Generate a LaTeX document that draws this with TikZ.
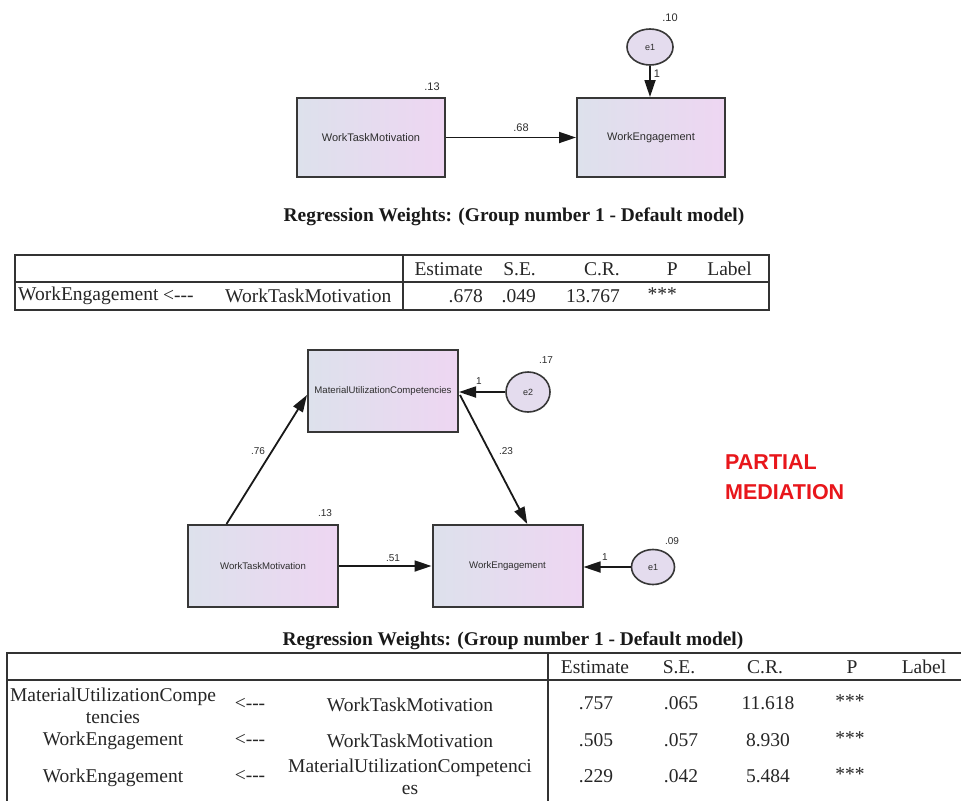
\documentclass[tikz,border=0pt]{standalone}
\usepackage{fontspec}
\setmainfont{Liberation Serif}
\newfontfamily\arialfont{Liberation Sans}
\usetikzlibrary{arrows.meta,shapes.geometric,calc}
\definecolor{boxL}{RGB}{221,225,236}
\definecolor{boxR}{RGB}{238,214,242}
\definecolor{ellfill}{RGB}{228,220,238}
\definecolor{edgec}{RGB}{55,55,55}
\definecolor{redtxt}{RGB}{232,22,27}
\definecolor{txtc}{RGB}{45,45,45}
\newcommand{\larr}{<{-}{-}{-}}
\begin{document}
\begin{tikzpicture}[x=1pt,y=-1pt,
  varbox/.style={rectangle,draw=edgec,line width=2pt,left color=boxL,right color=boxR,inner sep=0pt,text=txtc},
  bigbox/.style={varbox,minimum width=148pt,minimum height=79pt,font=\arialfont\fontsize{11}{12}\selectfont},
  midbox/.style={varbox,minimum width=150pt,minimum height=82pt,font=\arialfont\fontsize{9.6}{11}\selectfont},
  errvar/.style={ellipse,draw=edgec,line width=1.6pt,fill=ellfill,inner sep=0pt,text=txtc,font=\arialfont\fontsize{9}{10}\selectfont},
  regpath/.style={line width=1.8pt,draw=black!90,-{Triangle[length=17pt,width=11pt]}},
  num/.style={font=\arialfont\fontsize{11}{12}\selectfont,text=txtc,inner sep=0pt},
  numsm/.style={font=\arialfont\fontsize{10}{11}\selectfont,text=txtc,inner sep=0pt},
  cell/.style={font=\fontsize{19.5}{22}\selectfont,inner sep=0pt,text=black!85,align=center},
  ttl/.style={font=\bfseries\fontsize{19.4}{22}\selectfont,inner sep=0pt,text=black!90},
  rulel/.style={line width=1.6pt,draw=black!80},
  redlbl/.style={font=\arialfont\bfseries\fontsize{21.5}{30}\selectfont,text=redtxt,inner sep=0pt,align=left}
]
\path[use as bounding box,fill=white] (0,0) rectangle (961,801);

% ---------------- top diagram ----------------
\node[bigbox] (wtm1) at (371,137.5) {WorkTaskMotivation};
\node[bigbox] (we1) at (651,137.5) {WorkEngagement};
\node[errvar,minimum width=46pt,minimum height=36pt] (e1a) at (650,47) {e1};
\draw[regpath] (wtm1.east) -- (we1.west);
\draw[regpath] (e1a.south) -- (e1a.south |- we1.north);
\node[num] (v13a) at (432,87) {.13};
\node[num] (v10) at (670,18) {.10};
\node[num] (v68) at (521,128) {.68};
\node[num] (one1) at (657,74) {1};

% ---------------- top table ----------------
\node[ttl] (title1) at (514,217) {Regression Weights: (Group number 1 - Default model)};
\draw[rulel] (15,255) rectangle (769,310);
\draw[rulel] (15,282) -- (769,282);
\draw[rulel] (403,255) -- (403,310);
\node[cell,anchor=east] (h1est) at (483,269) {Estimate};
\node[cell,anchor=east] (h1se) at (536,269) {S.E.};
\node[cell,anchor=east] (h1cr) at (620,269) {C.R.};
\node[cell,anchor=east] (h1p) at (678,269) {P};
\node[cell,anchor=east] (h1lab) at (752,269) {Label};
\node[cell,anchor=west] (r1a) at (18,296) {WorkEngagement};
\node[cell,anchor=west] (r1b) at (163,296) {\larr};
\node[cell,anchor=west] (r1c) at (225,296) {WorkTaskMotivation};
\node[cell,anchor=east] (r1est) at (483,296) {.678};
\node[cell,anchor=east] (r1se) at (536,296) {.049};
\node[cell,anchor=east] (r1cr) at (620,296) {13.767};
\node[cell,anchor=east] (r1p) at (677,294) {***};

% ---------------- middle diagram ----------------
\node[midbox] (muc) at (383,391) {MaterialUtilizationCompetencies};
\node[errvar,minimum width=44pt,minimum height=40pt] (e2) at (528,392) {e2};
\node[midbox] (wtm2) at (263,566) {WorkTaskMotivation};
\node[midbox] (we2) at (507.5,566) {WorkEngagement};
\node[errvar,minimum width=43pt,minimum height=35pt] (e1b) at (653,567) {e1};
\draw[regpath] ($(wtm2.north west)!0.26!(wtm2.north east)$) -- ($(muc.west)+(0,4)$);
\draw[regpath] ($(muc.east)+(1,4)$) -- ($(we2.north west)!0.63!(we2.north east)$);
\draw[regpath] (wtm2.east) -- (we2.west);
\draw[regpath] (e2.west) -- (e2.west -| muc.east);
\draw[regpath] (e1b.west) -- (e1b.west -| we2.east);
\node[numsm] (v17) at (546,360) {.17};
\node[numsm] (one2) at (479,381) {1};
\node[numsm] (v13b) at (325,513) {.13};
\node[numsm] (v09) at (672,541) {.09};
\node[numsm] (one3) at (605,557) {1};
\node[numsm] (v76) at (258,451) {.76};
\node[numsm] (v23) at (506,451) {.23};
\node[numsm] (v51) at (393,558) {.51};

\node[redlbl,anchor=north west] (pm) at (725,454) {PARTIAL\\MEDIATION};

% ---------------- bottom table ----------------
\node[ttl] (title2) at (513,641) {Regression Weights: (Group number 1 - Default model)};
\draw[rulel] (961,653) -- (7,653) -- (7,801);
\draw[rulel] (7,680) -- (961,680);
\draw[rulel] (548,653) -- (548,801);
\node[cell] (h2est) at (595,667) {Estimate};
\node[cell] (h2se) at (679,667) {S.E.};
\node[cell] (h2cr) at (765,667) {C.R.};
\node[cell] (h2p) at (852,667) {P};
\node[cell] (h2lab) at (924,667) {Label};

\node[cell] (b1a) at (113,706) {MaterialUtilizationCompe\\tencies};
\node[cell] (b1b) at (250,704) {\larr};
\node[cell] (b1c) at (410,705) {WorkTaskMotivation};
\node[cell] (b1est) at (596,703) {.757};
\node[cell] (b1se) at (681,703) {.065};
\node[cell] (b1cr) at (768,703) {11.618};
\node[cell] (b1p) at (850,701) {***};

\node[cell] (b2a) at (113,741) {WorkEngagement};
\node[cell] (b2b) at (250,740) {\larr};
\node[cell] (b2c) at (410,741) {WorkTaskMotivation};
\node[cell] (b2est) at (596,740) {.505};
\node[cell] (b2se) at (681,740) {.057};
\node[cell] (b2cr) at (768,740) {8.930};
\node[cell] (b2p) at (850,738) {***};

\node[cell] (b3a) at (113,778) {WorkEngagement};
\node[cell] (b3b) at (250,776) {\larr};
\node[cell] (b3c) at (410,777) {MaterialUtilizationCompetenci\\es};
\node[cell] (b3est) at (596,776) {.229};
\node[cell] (b3se) at (681,776) {.042};
\node[cell] (b3cr) at (768,776) {5.484};
\node[cell] (b3p) at (850,774) {***};
\end{tikzpicture}
\end{document}
